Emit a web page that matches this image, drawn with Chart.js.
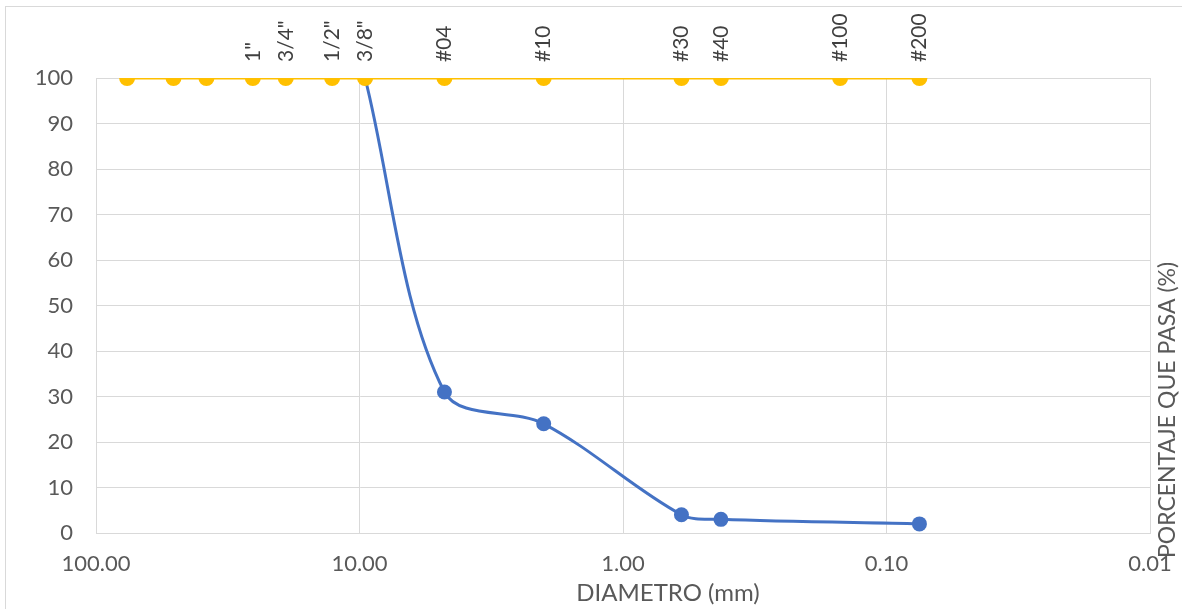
<!DOCTYPE html>
<html>
<head>
<meta charset="utf-8">
<script src="https://cdn.jsdelivr.net/npm/chart.js@4/dist/chart.umd.min.js"></script>
<style>
  html, body { margin: 0; padding: 0; background: #ffffff; }
  #wrap { position: relative; width: 1182px; height: 609px; }
</style>
</head>
<body>
<div id="wrap"><canvas id="c" width="1182" height="609"></canvas></div>
<script>
// Sieve openings (mm) and their names
const sieveSizes  = [76.2, 50.8, 38.1, 25.4, 19.05, 12.7, 9.525, 4.76, 2.00, 0.60, 0.425, 0.15, 0.075];
const sieveNames  = ['', '', '', '1"', '3/4"', '1/2"', '3/8"', '#04', '#10', '#30', '#40', '#100', '#200'];
const sieveRefPct = [100, 100, 100, 100, 100, 100, 100, 100, 100, 100, 100, 100, 100];

// Gradation curve (percentage passing)
const passSizes = [9.525, 4.76, 2.00, 0.60, 0.425, 0.075];
const passPct   = [100, 31, 24, 4, 3, 2];

// Axis tick values
const xTicks = [100, 10, 1, 0.1, 0.01];
const yMin = 0, yMax = 100, yStep = 10;

const FONT = 'Lato, "Open Sans", sans-serif';
const GRID = '#d9d9d9';
const TXT = '#595959';

const sievePoints = sieveSizes.map((s, i) => ({ x: s, y: sieveRefPct[i] }));
const passPoints = passSizes.map((s, i) => ({ x: s, y: passPct[i] }));

const decor = {
  id: 'decor',
  beforeDraw(chart) {
    const ctx = chart.ctx;
    ctx.save();
    ctx.fillStyle = '#fff';
    ctx.fillRect(0, 0, chart.width, chart.height);
    ctx.strokeStyle = GRID;
    ctx.lineWidth = 1;
    ctx.strokeRect(5.5, 6.5, chart.width + 10, chart.height + 10);
    ctx.restore();
  },
  afterDraw(chart) {
    const ctx = chart.ctx;
    ctx.save();
    ctx.fillStyle = TXT;
    ctx.textAlign = 'center';
    ctx.textBaseline = 'middle';
    ctx.font = '24px ' + FONT;
    ctx.fillText('DIAMETRO (mm)', 668, 593);
    ctx.translate(1168, 410);
    ctx.rotate(-Math.PI / 2);
    ctx.font = '23px ' + FONT;
    ctx.fillText('PORCENTAJE QUE PASA (%)', 0, 0);
    ctx.restore();

    // sieve labels
    const meta = chart.getDatasetMeta(0);
    ctx.save();
    ctx.fillStyle = '#404040';
    ctx.font = '21px ' + FONT;
    ctx.textAlign = 'left';
    ctx.textBaseline = 'middle';
    meta.data.forEach((pt, i) => {
      const name = sieveNames[i];
      if (!name) return;
      ctx.save();
      ctx.translate(pt.x, pt.y - 16);
      ctx.rotate(-Math.PI / 2);
      ctx.fillText(name, 0, 0);
      ctx.restore();
    });
    ctx.restore();
  }
};

new Chart(document.getElementById('c'), {
  type: 'scatter',
  data: {
    datasets: [
      {
        label: 'Tamices',
        data: sievePoints,
        showLine: true,
        borderColor: '#FFC000',
        backgroundColor: '#FFC000',
        borderWidth: 3,
        pointRadius: 8,
        pointHoverRadius: 8,
        pointBorderWidth: 0,
        order: 0
      },
      {
        label: 'Curva granulométrica',
        data: passPoints,
        showLine: true,
        borderColor: '#4472C4',
        backgroundColor: '#4472C4',
        borderWidth: 3,
        tension: 0.33,
        pointRadius: 7.5,
        pointHoverRadius: 7.5,
        pointBorderWidth: 0,
        order: 1
      }
    ]
  },
  options: {
    responsive: false,
    animation: false,
    events: [],
    layout: { padding: { top: 78, right: 32, bottom: 0, left: 0 } },
    plugins: {
      legend: { display: false },
      title: { display: false },
      tooltip: { enabled: false }
    },
    scales: {
      x: {
        type: 'logarithmic',
        reverse: true,
        min: 0.01,
        max: 100,
        afterBuildTicks(scale) { scale.ticks = xTicks.map(v => ({ value: v })); },
        afterFit(scale) { scale.height = 76; scale.paddingLeft = 0; scale.paddingRight = 0; },
        ticks: {
          color: TXT,
          font: { family: FONT, size: 22 },
          padding: 18,
          maxRotation: 0,
          autoSkip: false,
          callback: (v) => Number(v).toFixed(2)
        },
        grid: { color: GRID, lineWidth: 1, drawTicks: false },
        border: { color: GRID, width: 1 }
      },
      y: {
        min: yMin,
        max: yMax,
        afterFit(scale) { scale.width = 96; scale.paddingTop = 0; scale.paddingBottom = 0; },
        ticks: {
          stepSize: yStep,
          color: TXT,
          font: { family: FONT, size: 22 },
          padding: 23
        },
        grid: { color: GRID, lineWidth: 1, drawTicks: false },
        border: { color: GRID, width: 1 }
      }
    }
  },
  plugins: [decor]
});
</script>
</body>
</html>
